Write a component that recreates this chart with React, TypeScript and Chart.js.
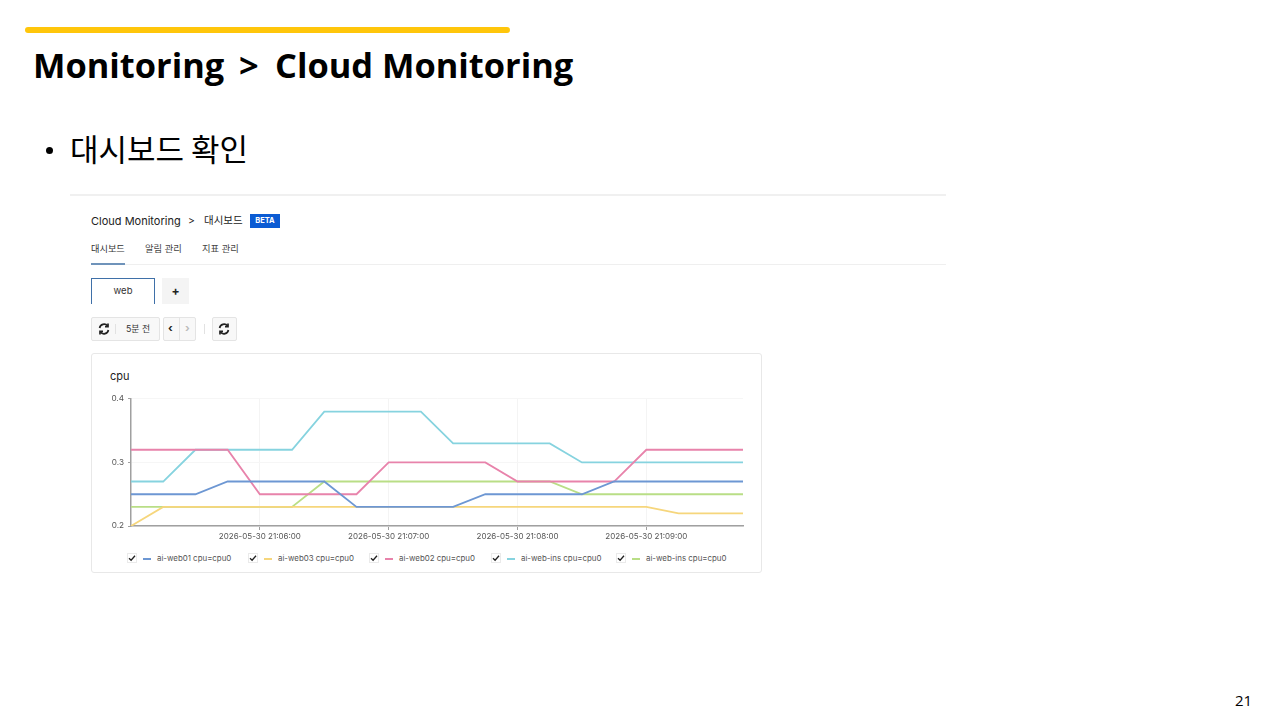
import React, { useEffect, useRef } from "react";
import { Chart, registerables } from "chart.js";

Chart.register(...registerables);

const times = [
  "2026-05-30 21:05:00", "2026-05-30 21:05:15", "2026-05-30 21:05:30", "2026-05-30 21:05:45",
  "2026-05-30 21:06:00", "2026-05-30 21:06:15", "2026-05-30 21:06:30", "2026-05-30 21:06:45",
  "2026-05-30 21:07:00", "2026-05-30 21:07:15", "2026-05-30 21:07:30", "2026-05-30 21:07:45",
  "2026-05-30 21:08:00", "2026-05-30 21:08:15", "2026-05-30 21:08:30", "2026-05-30 21:08:45",
  "2026-05-30 21:09:00", "2026-05-30 21:09:15", "2026-05-30 21:09:30", "2026-05-30 21:09:45",
];
const labeledTimes = ["2026-05-30 21:06:00", "2026-05-30 21:07:00", "2026-05-30 21:08:00", "2026-05-30 21:09:00"];
const yTicks = [0.2, 0.3, 0.4];

const web01 = [0.25, 0.25, 0.25, 0.27, 0.27, 0.27, 0.27, 0.23, 0.23, 0.23, 0.23, 0.25, 0.25, 0.25, 0.25, 0.27, 0.27, 0.27, 0.27, 0.27];
const web03 = [0.2, 0.23, 0.23, 0.23, 0.23, 0.23, 0.23, 0.23, 0.23, 0.23, 0.23, 0.23, 0.23, 0.23, 0.23, 0.23, 0.23, 0.22, 0.22, 0.22];
const web02 = [0.32, 0.32, 0.32, 0.32, 0.25, 0.25, 0.25, 0.25, 0.3, 0.3, 0.3, 0.3, 0.27, 0.27, 0.27, 0.27, 0.32, 0.32, 0.32, 0.32];
const webInsA = [0.27, 0.27, 0.32, 0.32, 0.32, 0.32, 0.38, 0.38, 0.38, 0.38, 0.33, 0.33, 0.33, 0.33, 0.3, 0.3, 0.3, 0.3, 0.3, 0.3];
const webInsB = [0.23, 0.23, 0.23, 0.23, 0.23, 0.23, 0.27, 0.27, 0.27, 0.27, 0.27, 0.27, 0.27, 0.27, 0.25, 0.25, 0.25, 0.25, 0.25, 0.25];

const seriesNames = ["ai-web01 cpu=cpu0", "ai-web03 cpu=cpu0", "ai-web02 cpu=cpu0", "ai-web-ins cpu=cpu0", "ai-web-ins cpu=cpu0"];
const seriesValues = [web01, web03, web02, webInsA, webInsB];
const seriesColors = ["#6d97d3", "#f6d67c", "#e883ab", "#86d3df", "#b9de86"];
const legendLeft = [127, 248, 369, 491, 616];

const SANS = "Inter, 'Noto Sans CJK KR', sans-serif";
const KR = "'Open Sans', 'Noto Sans CJK KR', sans-serif";

const at = (left: number, top: number, width: number, height: number): React.CSSProperties => ({
  position: "absolute", left, top, width, height, boxSizing: "border-box",
});

function Txt({ x, y, size, children, color = "#222", weight = 400, font = SANS }: any) {
  return (
    <div style={{ position: "absolute", left: x, top: y, transform: "translateY(-50%)", fontSize: size, color, fontWeight: weight, fontFamily: font, whiteSpace: "nowrap", lineHeight: 1 }}>
      {children}
    </div>
  );
}

function RefreshIcon({ x, y }: { x: number; y: number }) {
  return (
    <svg style={{ position: "absolute", left: x, top: y }} width="12" height="12" viewBox="0 0 12 12" fill="none" stroke="#222" strokeWidth="1.7">
      <path d="M1.6 5A4.5 4.5 0 0 1 9.6 3" />
      <path d="M10.4 7A4.5 4.5 0 0 1 2.4 9" />
      <path d="M10 0.6V3.6H7" />
      <path d="M2 11.4V8.4H5" />
    </svg>
  );
}

export default function App() {
  const ref = useRef<HTMLCanvasElement>(null);

  useEffect(() => {
    document.body.style.margin = "0";
    document.body.style.background = "#fff";
    const chart = new Chart(ref.current!, {
      type: "line",
      data: {
        labels: times,
        datasets: seriesNames.map((name, i) => ({
          label: name,
          data: seriesValues[i],
          borderColor: seriesColors[i],
          borderWidth: 1.8,
          pointRadius: 0,
          tension: 0,
          fill: false,
        })),
      },
      options: {
        animation: false,
        responsive: false,
        devicePixelRatio: 1,
        layout: { padding: { top: 7.5, right: 9, left: 0, bottom: 0 } },
        plugins: { legend: { display: false }, tooltip: { enabled: false } },
        scales: {
          x: {
            type: "category",
            offset: false,
            afterFit: (s: any) => { s.height = 22; },
            border: { color: "#a0a0a0", width: 1.5 },
            grid: {
              color: (c: any) => (labeledTimes.includes(times[c.index]) ? "#f4f4f4" : "rgba(0,0,0,0)"),
              tickColor: (c: any) => (labeledTimes.includes(times[c.index]) ? "#a0a0a0" : "rgba(0,0,0,0)"),
              tickLength: 4,
            },
            ticks: {
              autoSkip: false,
              maxRotation: 0,
              padding: 2,
              color: "#555",
              font: { family: "Inter", size: 8 },
              callback: (_v: any, i: number) => (labeledTimes.includes(times[i]) ? times[i] : ""),
            },
          },
          y: {
            min: yTicks[0],
            max: yTicks[yTicks.length - 1],
            afterFit: (s: any) => { s.width = 39; },
            afterBuildTicks: (s: any) => { s.ticks = yTicks.map((value) => ({ value })); },
            border: { color: "#a0a0a0", width: 1.5 },
            grid: { color: "#f6f6f6", tickColor: "#a0a0a0", tickLength: 3 },
            ticks: { padding: 4, color: "#555", font: { family: "Inter", size: 8.2 }, callback: (v: any) => Number(v).toFixed(1) },
          },
        },
      },
    });
    return () => chart.destroy();
  }, []);

  return (
    <div style={{ position: "absolute", left: 0, top: 0, width: 1280, height: 720, background: "#fff", overflow: "hidden" }}>
      {/* slide frame */}
      <div style={{ ...at(25, 27, 485, 6), background: "#FFC60B", borderRadius: 3 }} />
      <Txt x={33} y={64.5} size={34.4} weight={700} color="#000" font={KR}>Monitoring</Txt>
      <Txt x={239} y={64.5} size={34.4} weight={700} color="#000" font={KR}>&gt;</Txt>
      <Txt x={275} y={64.5} size={34.4} weight={700} color="#000" font={KR}>Cloud Monitoring</Txt>
      <div style={{ ...at(45.5, 146.5, 7, 7), background: "#000", borderRadius: "50%" }} />
      <Txt x={70} y={146.5} size={31} color="#000" font="'Noto Sans CJK KR', sans-serif">대시보드 확인</Txt>
      <Txt x={1235} y={700} size={15} color="#000" font={KR}>21</Txt>

      {/* console screenshot */}
      <div style={{ ...at(70, 194, 876, 2), background: "#f0f0f0" }} />
      <Txt x={91} y={221} size={11} color="#222">Cloud Monitoring</Txt>
      <Txt x={188} y={220.5} size={10.5} color="#222">&gt;</Txt>
      <Txt x={204} y={220.5} size={10.5} color="#222">대시보드</Txt>
      <div style={{ ...at(250, 214, 30, 14), background: "#0b5bd3", color: "#fff", fontFamily: SANS, fontSize: 7.5, fontWeight: 700, lineHeight: "14px", textAlign: "center" }}>BETA</div>
      <Txt x={91} y={249} size={9.2} color="#333">대시보드</Txt>
      <Txt x={145} y={249} size={9.3} color="#444">알림 관리</Txt>
      <Txt x={202} y={249} size={9.3} color="#444">지표 관리</Txt>
      <div style={{ ...at(91, 264, 855, 1), background: "#efefef" }} />
      <div style={{ ...at(91, 263, 34, 2), background: "#6f93ba" }} />

      <div style={{ ...at(91, 278, 64, 26), borderTop: "1px solid #3f70a8", borderLeft: "1px solid #3f70a8", borderRight: "1px solid #3f70a8", textAlign: "center", fontFamily: SANS, fontSize: 9.5, lineHeight: "23px", color: "#333" }}>web</div>
      <div style={{ ...at(162, 278, 27, 26), background: "#f4f4f4", textAlign: "center", fontFamily: SANS, fontSize: 12, fontWeight: 700, lineHeight: "25px", color: "#222" }}>+</div>

      <div style={{ ...at(91, 317, 69, 24), border: "1px solid #e4e4e4", background: "#f8f8f8", borderRadius: 2 }} />
      <RefreshIcon x={98} y={323} />
      <div style={{ ...at(115, 324, 1, 10), background: "#e2e2e2" }} />
      <Txt x={126} y={329} size={8.8} color="#333">5분 전</Txt>
      <div style={{ ...at(163, 317, 33, 24), border: "1px solid #e4e4e4", background: "#f8f8f8", borderRadius: 2 }} />
      <div style={{ ...at(179, 318, 1, 22), background: "#e4e4e4" }} />
      <Txt x={168} y={328} size={11} weight={700} color="#222">‹</Txt>
      <Txt x={185} y={328} size={11} weight={700} color="#bbb">›</Txt>
      <div style={{ ...at(204, 324, 1, 10), background: "#e2e2e2" }} />
      <div style={{ ...at(212, 317, 25, 24), border: "1px solid #e4e4e4", background: "#f8f8f8", borderRadius: 2 }} />
      <RefreshIcon x={218} y={323} />

      {/* card */}
      <div style={{ ...at(91, 353, 671, 220), border: "1px solid #e8e8e8", borderRadius: 3, background: "#fff" }} />
      <Txt x={110} y={376} size={11} weight={400} color="#222">cpu</Txt>
      <canvas ref={ref} width={660} height={158} style={{ ...at(92, 390, 660, 158), display: "block" }} />

      {seriesNames.map((name, i) => (
        <React.Fragment key={i}>
          <div style={{ ...at(legendLeft[i], 553, 10, 10), background: "#fff", border: "1px solid #eaeaea" }} />
          <svg style={{ position: "absolute", left: legendLeft[i] + 1, top: 554 }} width="8" height="8" viewBox="0 0 8 8" fill="none" stroke="#222" strokeWidth="1.3">
            <path d="M1 4.2L3.1 6.2L7 1.8" />
          </svg>
          <div style={{ ...at(legendLeft[i] + 16, 557.5, 8, 2), background: seriesColors[i] }} />
          <Txt x={legendLeft[i] + 30} y={558.5} size={7.9} color="#555">{name}</Txt>
        </React.Fragment>
      ))}
    </div>
  );
}
